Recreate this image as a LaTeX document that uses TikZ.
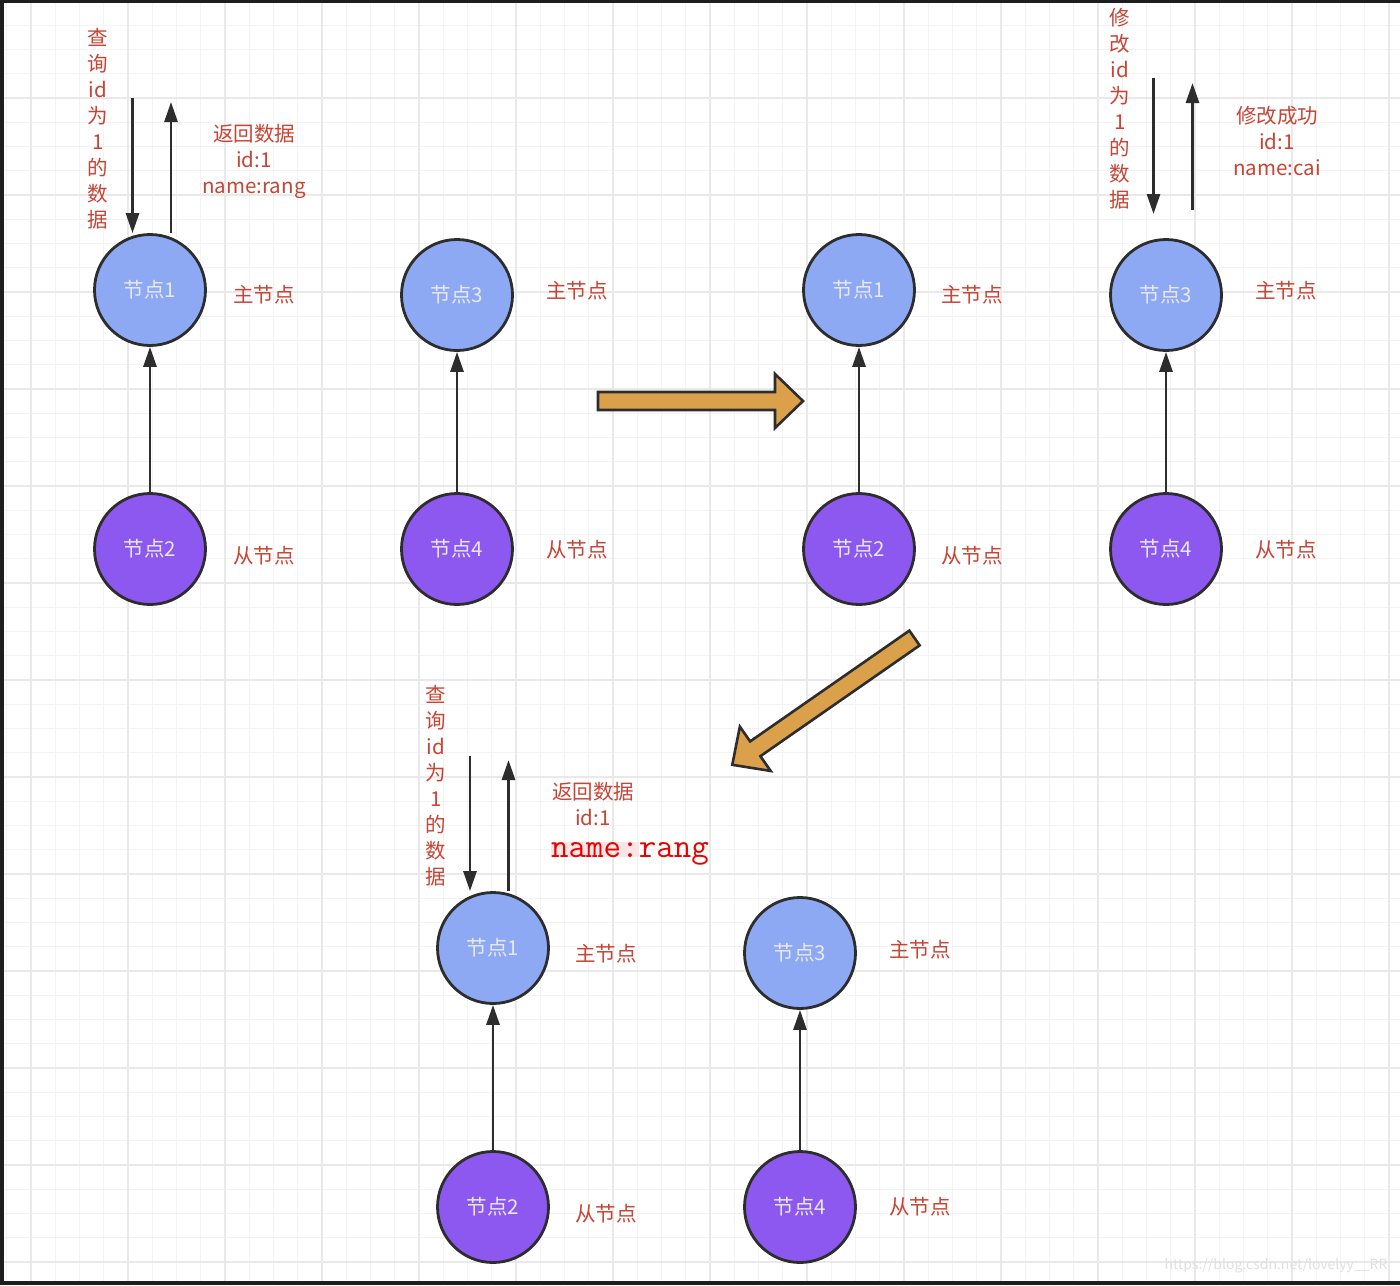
\documentclass[tikz,border=0pt]{standalone}
\usepackage{fontspec}
\setmainfont{Noto Sans CJK SC}
\usetikzlibrary{arrows.meta}
\definecolor{gridminor}{RGB}{243,243,243}
\definecolor{gridmajor}{RGB}{233,233,233}
\definecolor{nodeblue}{RGB}{141,169,244}
\definecolor{nodepurple}{RGB}{140,88,240}
\definecolor{labelred}{RGB}{200,68,52}
\definecolor{pureRed}{RGB}{235,0,0}
\definecolor{pinkhl}{RGB}{250,230,230}
\definecolor{arroworange}{RGB}{218,160,74}
\definecolor{edgecol}{RGB}{45,45,45}
\definecolor{nodetext}{RGB}{232,232,242}
\definecolor{framecol}{RGB}{30,30,30}
\newcommand\fatpath[1]{(0,-9) -- ({#1-28},-9) -- ({#1-28},-27) -- (#1,0) -- ({#1-28},27) -- ({#1-28},9) -- (0,9) -- cycle}
\begin{document}
\begin{tikzpicture}[x=1pt,y=-1pt,
  master/.style={circle, draw=edgecol, line width=2.8pt, fill=nodeblue, minimum size=111pt, inner sep=0pt, text=nodetext, font=\fontsize{20.5}{24}\selectfont},
  slave/.style={master, fill=nodepurple},
  role/.style={text=labelred, font=\fontsize{20.5}{26}\selectfont, align=center, inner sep=0pt},
  conn/.style={draw=edgecol, line width=2.8pt, -{Triangle[length=20pt,width=13pt]}},
  fat/.style={draw=edgecol, line width=2.6pt, fill=arroworange, line join=miter},
]
\useasboundingbox (0,0) rectangle (1400,1285);
\fill[white] (0,0) rectangle (1400,1285);
% grid
\foreach \i in {0,...,57} \draw[gridminor, line width=1.2pt] ({6.75+24.25*\i},0) -- ++(0,1285);
\foreach \j in {0,...,52} \draw[gridminor, line width=1.2pt] (0,{1+24.25*\j}) -- ++(1400,0);
\foreach \k in {0,...,14} \draw[gridmajor, line width=1.8pt] ({31+97*\k},0) -- ++(0,1285);
\foreach \k in {0,...,13} \draw[gridmajor, line width=1.8pt] (0,{1+97*\k}) -- ++(1400,0);
% frame
\fill[framecol] (0,0) rectangle (1400,3);
\fill[framecol] (0,0) rectangle (4,1285);
\fill[framecol] (0,1281) rectangle (1400,1285);

% group a
\node[master] (a1) at (150,290) {节点1};
\node[slave]  (a2) at (150,549) {节点2};
\draw[conn] (a2) -- (a1);
\node[role] (ra1) at (264,295) {主节点};
\node[role] (ra2) at (264,556) {从节点};
\node[role] (qta) at (98,129) {查\\询\\id\\为\\1\\的\\数\\据};
\coordinate (qa1) at (132.5,98);
\coordinate (qa2) at (171,102);
\draw[conn] (qa1) -- (qa1 |- a1.north);
\draw[conn] (a1.north -| qa2) -- (qa2);
\node[role] (rta) at (254,161) {返回数据\\id:1\\name:rang};

% group b
\node[master] (b3) at (457,295) {节点3};
\node[slave]  (b4) at (457,549) {节点4};
\draw[conn] (b4) -- (b3);
\node[role] (rb1) at (577,291) {主节点};
\node[role] (rb2) at (577,550) {从节点};

% group c
\node[master] (c1) at (859,290) {节点1};
\node[slave]  (c2) at (859,549) {节点2};
\draw[conn] (c2) -- (c1);
\node[role] (rc1) at (972,295) {主节点};
\node[role] (rc2) at (972,556) {从节点};

% group d
\node[master] (d3) at (1166,295) {节点3};
\node[slave]  (d4) at (1166,549) {节点4};
\draw[conn] (d4) -- (d3);
\node[role] (rd1) at (1286,291) {主节点};
\node[role] (rd2) at (1286,550) {从节点};
\node[role] (qtd) at (1120,109) {修\\改\\id\\为\\1\\的\\数\\据};
\coordinate (qd1) at (1153.5,78);
\coordinate (qd1b) at (1153.5,214);
\coordinate (qd2) at (1192.5,83);
\coordinate (qd2b) at (1192.5,210);
\draw[conn] (qd1) -- (qd1b);
\draw[conn] (qd2b) -- (qd2);
\node[role] (rtd) at (1277,141) {修改成功\\id:1\\name:cai};

% group e
\node[master] (e1) at (493,948) {节点1};
\node[slave]  (e2) at (493,1207) {节点2};
\draw[conn] (e2) -- (e1);
\node[role] (re1) at (606,954) {主节点};
\node[role] (re2) at (606,1214) {从节点};
\node[role] (qte) at (436,786) {查\\询\\id\\为\\1\\的\\数\\据};
\coordinate (qe1) at (470,756);
\coordinate (qe2) at (508.5,760);
\draw[conn] (qe1) -- (qe1 |- e1.north);
\draw[conn] (e1.north -| qe2) -- (qe2);
\node[role] (rte1) at (593,792) {返回数据};
\node[role] (rte2) at (593,817) {id:1};
\node[text=pureRed, font=\fontsize{34}{34}\selectfont\ttfamily, inner sep=0pt, anchor=base] (rte3) at (630,857) {{\setlength{\fboxsep}{0pt}\colorbox{pinkhl}{name:}}rang};

% group f
\node[master] (f3) at (800,953) {节点3};
\node[slave]  (f4) at (800,1207) {节点4};
\draw[conn] (f4) -- (f3);
\node[role] (rf1) at (920,950) {主节点};
\node[role] (rf2) at (920,1207) {从节点};

% big arrows
\draw[fat, shift={(598,401)}] \fatpath{205};
\draw[fat, shift={(914.5,638)}, rotate=214.83] \fatpath{222};

% watermark
\node[text=white!88!black, font=\fontsize{14}{14}\selectfont, inner sep=0pt] (wm) at (1276,1266) {https://blog.csdn.net/lovelyy\_\_RR};
\end{tikzpicture}
\end{document}
